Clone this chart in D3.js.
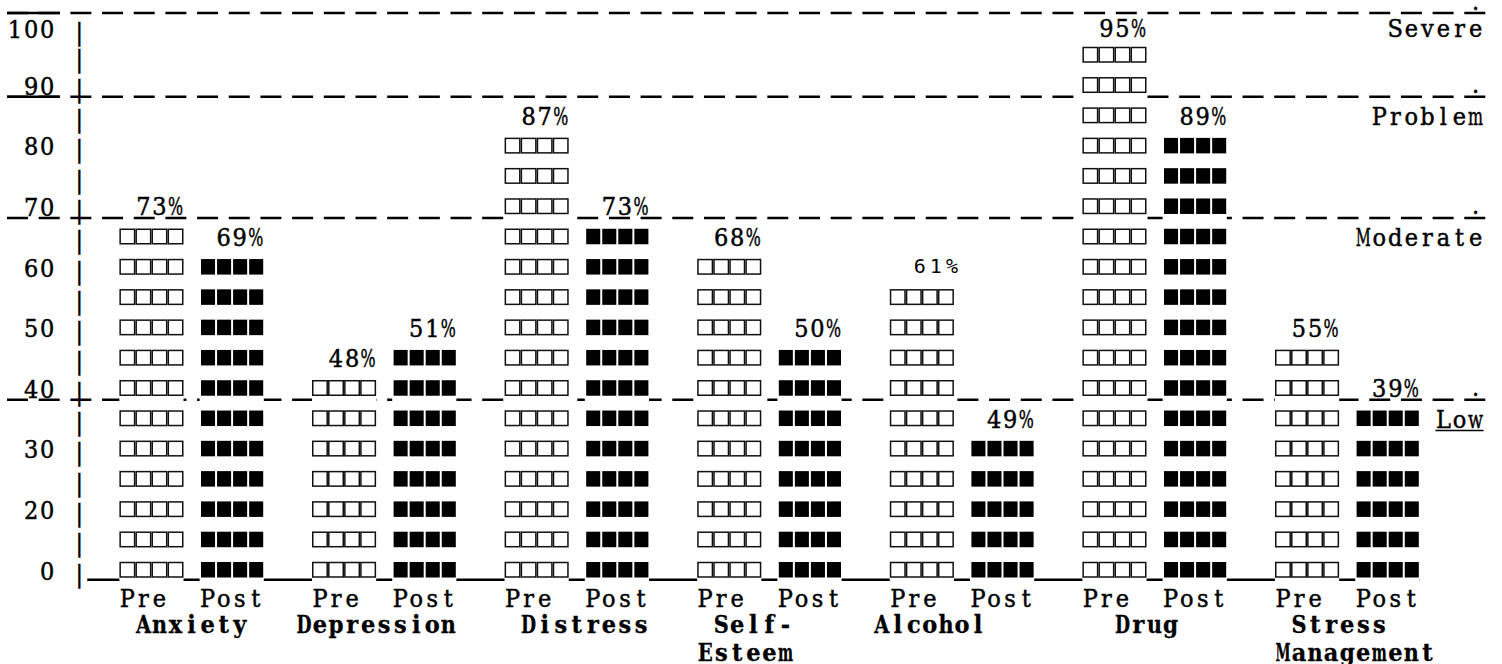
<!DOCTYPE html>
<html>
<head>
<meta charset="utf-8">
<script src="https://cdn.jsdelivr.net/npm/d3@7"></script>
<style>
html, body { margin: 0; padding: 0; background: #fff; }
svg { display: block; }
.serif { font-family: "DejaVu Serif Condensed", "DejaVu Serif", serif; font-stretch: condensed; font-size: 25px; fill: #000; stroke: #000; stroke-width: 0.45px; }
.bold { font-family: "DejaVu Serif Condensed", "DejaVu Serif", serif; font-stretch: condensed; font-weight: bold; font-size: 25px; fill: #000; stroke: #000; stroke-width: 0.3px; }
.mono { font-family: "DejaVu Sans Mono", monospace; font-size: 20px; fill: #000; }
</style>
</head>
<body>
<div id="chart"></div>
<script>
// scale names and the two measurement points
const categories = ["Anxiety", "Depression", "Distress", "Self-Esteem", "Alcohol", "Drug", "Stress Management"];
const nameLines = [["Anxiety"], ["Depression"], ["Distress"], ["Self-", "Esteem"], ["Alcohol"], ["Drug"], ["Stress", "Management"]];
const phases = ["Pre", "Post"];

// percentages printed above each column
const prePct = [73, 48, 87, 68, 61, 95, 55];
const postPct = [69, 51, 73, 50, 49, 89, 39];

// height of each column, in rows of blocks
const preLevel = [12, 7, 15, 11, 10, 18, 8];
const postLevel = [11, 8, 12, 8, 5, 15, 6];

// left axis, one label per row (blank rows just show the bar)
const tickLabels = ["0", "", "20", "", "30", "", "40", "", "50", "", "60", "", "70", "", "80", "", "90", "", "100"];

// severity bands and the rows their cut lines sit on
const bands = ["Low", "Moderate", "Problem", "Severe"];
const bandLevel = [5, 11, 15, 18];
const cutLevel = [6, 12, 16, 19];

const width = 1502, height = 664;
const CW = 16.05, X0 = 7;           // character cell of the text grid
const col = c => X0 + c * CW;

const svg = d3.select("#chart").append("svg")
    .attr("width", width)
    .attr("height", height);

// rows -> text baseline
const y = d3.scaleLinear().domain([0, 17, 19]).range([579, 64, 10.5]);

// groups every 12 cells, Pre/Post 5 cells apart
const x = d3.scaleBand().domain(categories).range([col(7), col(91)]).paddingInner(0).paddingOuter(0);
const xPhase = d3.scaleBand().domain(phases).range([0, 10 * CW]);

// write a string one glyph per cell (centred), squeezing glyphs wider than a cell
function gridText(parent, str, startX, yy, cls) {
    const t = parent.append("text").attr("class", cls).attr("y", yy).attr("text-anchor", "middle");
    [...str].forEach((ch, i) => {
        t.append("tspan").attr("x", startX + i * CW + CW / 2).text(ch);
    });
    squeeze(t);
    return t;
}
function squeeze(t) {
    t.selectAll("tspan").each(function () {
        if (this.getComputedTextLength() > CW - 0.5) {
            d3.select(this).attr("textLength", CW - 1).attr("lengthAdjust", "spacingAndGlyphs");
        }
    });
}

// cut lines of the bands
const cuts = svg.append("g");
cuts.selectAll("line.cut")
    .data(cutLevel)
    .enter().append("line")
    .attr("class", "cut")
    .attr("x1", col(0)).attr("x2", 1486)
    .attr("y1", d => y(d) + 2.5).attr("y2", d => y(d) + 2.5)
    .attr("stroke", "#000").attr("stroke-width", 2.6)
    .attr("stroke-dasharray", "21 10.68");
cuts.selectAll("line.lead")
    .data(cutLevel.filter(d => d >= 16))
    .enter().append("line")
    .attr("class", "lead")
    .attr("x1", col(0)).attr("x2", col(3.3))
    .attr("y1", d => y(d) + 2.5).attr("y2", d => y(d) + 2.5)
    .attr("stroke", "#000").attr("stroke-width", 2.6);
cuts.selectAll("text.dot")
    .data(cutLevel)
    .enter().append("text")
    .attr("class", "serif dot")
    .attr("x", col(91) + CW / 2)
    .attr("text-anchor", "middle")
    .attr("y", d => y(d) - 1)
    .text(".");

// base line under the columns
svg.append("line")
    .attr("x1", col(5)).attr("x2", x(categories[6]) + xPhase("Post") + 4 * CW)
    .attr("y1", y(0) + 0.8).attr("y2", y(0) + 0.8)
    .attr("stroke", "#000").attr("stroke-width", 2.5);

// left axis
const axis = d3.axisLeft(y)
    .tickValues(d3.range(tickLabels.length))
    .tickFormat(r => tickLabels[r])
    .tickSize(0)
    .tickPadding(0);
const gAxis = svg.append("g")
    .attr("transform", `translate(${col(3)},0)`)
    .call(axis);
gAxis.select(".domain").remove();
gAxis.selectAll(".tick text").each(function (r) {
    const s = tickLabels[r];
    const t = d3.select(this).text(null)
        .attr("class", "serif").attr("dy", null).attr("x", null).attr("y", 0)
        .attr("text-anchor", "middle");
    [...s].forEach((ch, i) => {
        t.append("tspan").attr("x", -(s.length - i) * CW + CW / 2).text(ch);
    });
});
gAxis.selectAll(".tick").append("text")
    .attr("class", "serif")
    .attr("x", col(4) + CW / 2 - col(3))
    .attr("y", 2)
    .attr("text-anchor", "middle")
    .text("|");

// one record per row of blocks
const cells = [];
categories.forEach((c, i) => {
    [preLevel[i], postLevel[i]].forEach((n, k) => {
        d3.range(n).forEach(r => cells.push({ cat: c, phase: phases[k], row: r }));
    });
});

const gBars = svg.append("g");
const cell = gBars.selectAll("g.cell")
    .data(cells)
    .enter().append("g")
    .attr("class", "cell")
    .attr("transform", d => `translate(${x(d.cat) + xPhase(d.phase)},${y(d.row)})`);

cell.append("rect")
    .attr("x", 0).attr("y", -17)
    .attr("width", 4 * CW).attr("height", 23)
    .attr("fill", "#fff");

cell.each(function (d) {
    const g = d3.select(this);
    d3.range(4).forEach(k => {
        if (d.phase === "Pre") {
            g.append("rect")
                .attr("x", k * CW + 0.8).attr("y", -16.5)
                .attr("width", CW - 1.6).attr("height", 14.5)
                .attr("fill", "#fff").attr("stroke", "#111").attr("stroke-width", 1.5);
        } else {
            g.append("rect")
                .attr("x", k * CW + 1.4).attr("y", -17)
                .attr("width", CW - 2).attr("height", 15.5)
                .attr("fill", "#000");
        }
    });
});

// percentage labels on top of each column
const gLabels = svg.append("g");
categories.forEach((c, i) => {
    [[prePct[i], preLevel[i]], [postPct[i], postLevel[i]]].forEach(([p, n], k) => {
        const s = p + "%";
        const x0 = x(c) + xPhase(phases[k]) + (4 - s.length) * CW;
        const odd = c === "Alcohol" && phases[k] === "Pre";
        if (odd) {
            gLabels.append("text").attr("class", "mono")
                .attr("x", x0 + 0.5 * CW).attr("y", y(n) - 3)
                .attr("letter-spacing", 4)
                .text(s);
        } else {
            gridText(gLabels, s, x0, y(n), "serif");
        }
    });
});

// Pre / Post under each column
categories.forEach(c => {
    phases.forEach(p => gridText(svg, p, x(c) + xPhase(p), y(-1) - 2, "serif"));
});

// scale names, centred by hand like the typed original
const nameShift = [[1], [-1], [1], [1, 0], [-1], [2], [1, 0]];
categories.forEach((c, i) => {
    nameLines[i].forEach((line, j) => {
        gridText(svg, line, x(c) + nameShift[i][j] * CW, 633 + j * 28, "bold");
    });
});

// band names at the right edge
bands.forEach((b, i) => {
    gridText(svg, b, col(92 - b.length), y(bandLevel[i]), "serif");
    if (b === "Low") {
        svg.append("line")
            .attr("x1", col(89)).attr("x2", col(92))
            .attr("y1", y(bandLevel[i]) + 3).attr("y2", y(bandLevel[i]) + 3)
            .attr("stroke", "#000").attr("stroke-width", 1.6);
    }
});
</script>
</body>
</html>
